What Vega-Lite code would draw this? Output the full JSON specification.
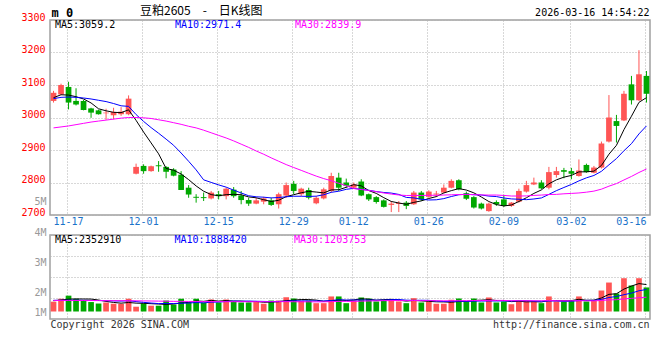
{
"$schema": "https://vega.github.io/schema/vega-lite/v6.json",
"background": "white",
"padding": {"left": 20, "top": 4, "right": 5, "bottom": 5},
"datasets": {"k": [
{"d":"2025-11-13","o":3051,"h":3082,"l":3046,"c":3076,"v":860000,"m5":3061,"m10":3058,"m30":2968,"vm5":950000,"vm10":980000,"vm30":970000},
{"d":"2025-11-14","o":3071,"h":3104,"l":3069,"c":3100,"v":1120000,"m5":3070,"m10":3062,"m30":2971,"vm5":1000000,"vm10":980000,"vm30":970000},
{"d":"2025-11-17","o":3094,"h":3110,"l":3025,"c":3046,"v":1390000,"m5":3069,"m10":3063,"m30":2974,"vm5":1080000,"vm10":990000,"vm30":970000},
{"d":"2025-11-18","o":3051,"h":3090,"l":3037,"c":3040,"v":1120000,"m5":3064,"m10":3062,"m30":2978,"vm5":1100000,"vm10":990000,"vm30":970000},
{"d":"2025-11-19","o":3051,"h":3054,"l":3022,"c":3023,"v":990000,"m5":3057,"m10":3060,"m30":2982,"vm5":1096000,"vm10":980000,"vm30":960000},
{"d":"2025-11-20","o":3028,"h":3030,"l":2999,"c":3015,"v":830000,"m5":3044.8,"m10":3057,"m30":2986,"vm5":1090000,"vm10":970000,"vm30":960000},
{"d":"2025-11-21","o":3022,"h":3024,"l":3009,"c":3010,"v":700000,"m5":3026.8,"m10":3053,"m30":2989,"vm5":1006000,"vm10":960000,"vm30":960000},
{"d":"2025-11-24","o":3013,"h":3027,"l":2993,"c":3015,"v":790000,"m5":3020.6,"m10":3049,"m30":2992,"vm5":886000,"vm10":950000,"vm30":950000},
{"d":"2025-11-25","o":3007,"h":3030,"l":2994,"c":3017,"v":670000,"m5":3016,"m10":3043,"m30":2995,"vm5":796000,"vm10":930000,"vm30":950000},
{"d":"2025-11-26","o":3010,"h":3032,"l":3005,"c":3018,"v":670000,"m5":3015,"m10":3036,"m30":2998,"vm5":732000,"vm10":914000,"vm30":950000},
{"d":"2025-11-27","o":3010,"h":3068,"l":3007,"c":3058,"v":1120000,"m5":3023.6,"m10":3034.2,"m30":3000,"vm5":790000,"vm10":940000,"vm30":950000},
{"d":"2025-11-28","o":2827,"h":2858,"l":2825,"c":2848,"v":420000,"m5":2991.2,"m10":3009,"m30":3000,"vm5":734000,"vm10":870000,"vm30":940000},
{"d":"2025-12-01","o":2851,"h":2856,"l":2827,"c":2835,"v":710000,"m5":2955.2,"m10":2987.9,"m30":2999,"vm5":718000,"vm10":802000,"vm30":930000},
{"d":"2025-12-02","o":2835,"h":2852,"l":2833,"c":2850,"v":510000,"m5":2921.8,"m10":2968.9,"m30":2997,"vm5":686000,"vm10":741000,"vm30":920000},
{"d":"2025-12-03","o":2853,"h":2866,"l":2833,"c":2850,"v":510000,"m5":2888.2,"m10":2951.6,"m30":2993,"vm5":654000,"vm10":693000,"vm30":910000},
{"d":"2025-12-04","o":2848,"h":2850,"l":2813,"c":2833,"v":960000,"m5":2843.2,"m10":2933.4,"m30":2989,"vm5":622000,"vm10":706000,"vm30":900000},
{"d":"2025-12-05","o":2840,"h":2844,"l":2819,"c":2821,"v":610000,"m5":2837.8,"m10":2914.5,"m30":2984,"vm5":660000,"vm10":697000,"vm30":890000},
{"d":"2025-12-08","o":2824,"h":2835,"l":2777,"c":2777,"v":1120000,"m5":2826.2,"m10":2890.7,"m30":2979,"vm5":742000,"vm10":730000,"vm30":890000},
{"d":"2025-12-09","o":2784,"h":2792,"l":2753,"c":2763,"v":810000,"m5":2808.8,"m10":2865.3,"m30":2973,"vm5":802000,"vm10":744000,"vm30":880000},
{"d":"2025-12-10","o":2756,"h":2764,"l":2738,"c":2753,"v":1120000,"m5":2789.4,"m10":2838.8,"m30":2968,"vm5":924000,"vm10":789000,"vm30":880000},
{"d":"2025-12-11","o":2755,"h":2769,"l":2743,"c":2752,"v":790000,"m5":2773.2,"m10":2808.2,"m30":2961,"vm5":890000,"vm10":756000,"vm30":870000},
{"d":"2025-12-12","o":2751,"h":2774,"l":2748,"c":2769,"v":1050000,"m5":2762.8,"m10":2800.3,"m30":2953,"vm5":978000,"vm10":819000,"vm30":870000},
{"d":"2025-12-15","o":2764,"h":2774,"l":2748,"c":2758,"v":790000,"m5":2759,"m10":2792.6,"m30":2945,"vm5":912000,"vm10":827000,"vm30":870000},
{"d":"2025-12-16","o":2758,"h":2784,"l":2748,"c":2781,"v":1050000,"m5":2762.6,"m10":2785.7,"m30":2937,"vm5":960000,"vm10":881000,"vm30":860000},
{"d":"2025-12-17","o":2778,"h":2786,"l":2753,"c":2758,"v":880000,"m5":2763.6,"m10":2776.5,"m30":2928,"vm5":912000,"vm10":918000,"vm30":860000},
{"d":"2025-12-18","o":2760,"h":2774,"l":2733,"c":2746,"v":790000,"m5":2762.4,"m10":2767.8,"m30":2918,"vm5":912000,"vm10":901000,"vm30":860000},
{"d":"2025-12-19","o":2746,"h":2753,"l":2728,"c":2735,"v":790000,"m5":2755.6,"m10":2759.2,"m30":2908,"vm5":860000,"vm10":919000,"vm30":860000},
{"d":"2025-12-22","o":2735,"h":2753,"l":2733,"c":2745,"v":900000,"m5":2753,"m10":2756,"m30":2897,"vm5":882000,"vm10":897000,"vm30":860000},
{"d":"2025-12-23","o":2741,"h":2756,"l":2733,"c":2751,"v":680000,"m5":2747,"m10":2754.8,"m30":2887,"vm5":808000,"vm10":884000,"vm30":860000},
{"d":"2025-12-24","o":2745,"h":2753,"l":2728,"c":2731,"v":960000,"m5":2741.6,"m10":2752.6,"m30":2875.8,"vm5":824000,"vm10":868000,"vm30":857000},
{"d":"2025-12-25","o":2733,"h":2769,"l":2720,"c":2764,"v":960000,"m5":2745.2,"m10":2753.8,"m30":2865.4,"vm5":858000,"vm10":885000,"vm30":860000},
{"d":"2025-12-26","o":2760,"h":2800,"l":2753,"c":2792,"v":1250000,"m5":2756.6,"m10":2756.1,"m30":2855.1,"vm5":950000,"vm10":905000,"vm30":865000},
{"d":"2025-12-29","o":2796,"h":2805,"l":2764,"c":2774,"v":1140000,"m5":2762.4,"m10":2757.7,"m30":2846.1,"vm5":998000,"vm10":940000,"vm30":856000},
{"d":"2025-12-30","o":2764,"h":2784,"l":2758,"c":2781,"v":940000,"m5":2768.4,"m10":2757.7,"m30":2837.4,"vm5":1050000,"vm10":929000,"vm30":850000},
{"d":"2025-12-31","o":2777,"h":2784,"l":2748,"c":2753,"v":940000,"m5":2772.8,"m10":2757.2,"m30":2828.4,"vm5":1046000,"vm10":935000,"vm30":849000},
{"d":"2026-01-05","o":2736,"h":2758,"l":2733,"c":2753,"v":730000,"m5":2770.6,"m10":2757.9,"m30":2819.7,"vm5":1000000,"vm10":929000,"vm30":845000},
{"d":"2026-01-06","o":2751,"h":2784,"l":2748,"c":2779,"v":730000,"m5":2768,"m10":2762.3,"m30":2812,"vm5":896000,"vm10":923000,"vm30":846000},
{"d":"2026-01-07","o":2774,"h":2830,"l":2769,"c":2820,"v":1320000,"m5":2777.2,"m10":2769.8,"m30":2805.5,"vm5":932000,"vm10":965000,"vm30":864000},
{"d":"2026-01-08","o":2815,"h":2830,"l":2774,"c":2784,"v":1320000,"m5":2777.8,"m10":2773.1,"m30":2797.7,"vm5":1008000,"vm10":1029000,"vm30":886000},
{"d":"2026-01-09","o":2800,"h":2812,"l":2784,"c":2790,"v":730000,"m5":2785.2,"m10":2779,"m30":2790.1,"vm5":966000,"vm10":1006000,"vm30":888000},
{"d":"2026-01-12","o":2784,"h":2800,"l":2781,"c":2794,"v":960000,"m5":2793.4,"m10":2782,"m30":2781.3,"vm5":1012000,"vm10":1006000,"vm30":882000},
{"d":"2026-01-13","o":2803,"h":2810,"l":2758,"c":2760,"v":1230000,"m5":2789.6,"m10":2778.8,"m30":2778.4,"vm5":1112000,"vm10":1004000,"vm30":909000},
{"d":"2026-01-14","o":2764,"h":2766,"l":2743,"c":2748,"v":1140000,"m5":2775.2,"m10":2776.2,"m30":2775.5,"vm5":1076000,"vm10":1004000,"vm30":924000},
{"d":"2026-01-15","o":2755,"h":2758,"l":2735,"c":2740,"v":880000,"m5":2766.4,"m10":2772.1,"m30":2771.8,"vm5":988000,"vm10":998000,"vm30":936000},
{"d":"2026-01-16","o":2745,"h":2748,"l":2723,"c":2725,"v":990000,"m5":2753.4,"m10":2769.3,"m30":2767.7,"vm5":1040000,"vm10":1003000,"vm30":952000},
{"d":"2026-01-19","o":2731,"h":2743,"l":2709,"c":2735,"v":1080000,"m5":2741.6,"m10":2767.5,"m30":2764.4,"vm5":1064000,"vm10":1038000,"vm30":956000},
{"d":"2026-01-20","o":2734,"h":2743,"l":2709,"c":2737,"v":880000,"m5":2737,"m10":2763.3,"m30":2761.6,"vm5":994000,"vm10":1053000,"vm30":965000},
{"d":"2026-01-21","o":2738,"h":2743,"l":2718,"c":2728,"v":730000,"m5":2733,"m10":2754.1,"m30":2760,"vm5":912000,"vm10":994000,"vm30":952000},
{"d":"2026-01-22","o":2733,"h":2774,"l":2731,"c":2769,"v":1170000,"m5":2738.8,"m10":2752.6,"m30":2760.2,"vm5":970000,"vm10":979000,"vm30":964000},
{"d":"2026-01-23","o":2769,"h":2774,"l":2743,"c":2748,"v":790000,"m5":2743.4,"m10":2748.4,"m30":2760,"vm5":930000,"vm10":985000,"vm30":953000},
{"d":"2026-01-26","o":2756,"h":2776,"l":2753,"c":2772,"v":880000,"m5":2750.8,"m10":2746.2,"m30":2760.7,"vm5":890000,"vm10":977000,"vm30":956000},
{"d":"2026-01-27","o":2763,"h":2774,"l":2755,"c":2766,"v":680000,"m5":2756.6,"m10":2746.8,"m30":2760.6,"vm5":850000,"vm10":922000,"vm30":944000},
{"d":"2026-01-28","o":2769,"h":2794,"l":2767,"c":2784,"v":680000,"m5":2767.8,"m10":2750.4,"m30":2761.4,"vm5":840000,"vm10":876000,"vm30":940000},
{"d":"2026-01-29","o":2784,"h":2810,"l":2782,"c":2805,"v":1030000,"m5":2775,"m10":2756.9,"m30":2762.2,"vm5":812000,"vm10":891000,"vm30":939000},
{"d":"2026-01-30","o":2807,"h":2810,"l":2776,"c":2779,"v":1140000,"m5":2781.2,"m10":2762.3,"m30":2762.9,"vm5":882000,"vm10":906000,"vm30":948000},
{"d":"2026-02-02","o":2767,"h":2772,"l":2746,"c":2750,"v":880000,"m5":2776.8,"m10":2763.8,"m30":2763.1,"vm5":882000,"vm10":886000,"vm30":951000},
{"d":"2026-02-03","o":2755,"h":2758,"l":2720,"c":2723,"v":1140000,"m5":2768.2,"m10":2762.4,"m30":2762.7,"vm5":974000,"vm10":912000,"vm30":963000},
{"d":"2026-02-04","o":2735,"h":2738,"l":2717,"c":2720,"v":790000,"m5":2755.4,"m10":2761.6,"m30":2761.8,"vm5":996000,"vm10":918000,"vm30":959000},
{"d":"2026-02-05","o":2712,"h":2738,"l":2710,"c":2735,"v":1230000,"m5":2741.4,"m10":2758.2,"m30":2761.3,"vm5":1036000,"vm10":924000,"vm30":977000},
{"d":"2026-02-06","o":2740,"h":2745,"l":2728,"c":2733,"v":790000,"m5":2732.2,"m10":2756.7,"m30":2761.4,"vm5":966000,"vm10":924000,"vm30":972000},
{"d":"2026-02-09","o":2748,"h":2762,"l":2725,"c":2728,"v":880000,"m5":2727.8,"m10":2752.3,"m30":2760.2,"vm5":966000,"vm10":924000,"vm30":969000},
{"d":"2026-02-10","o":2728,"h":2740,"l":2725,"c":2738,"v":640000,"m5":2730.8,"m10":2749.5,"m30":2758.4,"vm5":866000,"vm10":920000,"vm30":949000},
{"d":"2026-02-11","o":2741,"h":2781,"l":2738,"c":2774,"v":960000,"m5":2741.6,"m10":2748.5,"m30":2758.4,"vm5":900000,"vm10":948000,"vm30":943000},
{"d":"2026-02-12","o":2772,"h":2805,"l":2769,"c":2792,"v":960000,"m5":2753,"m10":2747.2,"m30":2758.7,"vm5":846000,"vm10":941000,"vm30":943000},
{"d":"2026-02-13","o":2794,"h":2815,"l":2792,"c":2800,"v":880000,"m5":2766.4,"m10":2749.3,"m30":2760.3,"vm5":864000,"vm10":915000,"vm30":941000},
{"d":"2026-02-24","o":2800,"h":2807,"l":2779,"c":2782,"v":730000,"m5":2777.2,"m10":2752.5,"m30":2761.3,"vm5":834000,"vm10":900000,"vm30":941000},
{"d":"2026-02-25","o":2784,"h":2848,"l":2779,"c":2832,"v":1320000,"m5":2796,"m10":2763.4,"m30":2763,"vm5":970000,"vm10":918000,"vm30":961000},
{"d":"2026-02-26","o":2823,"h":2848,"l":2815,"c":2835,"v":880000,"m5":2808.2,"m10":2774.9,"m30":2763.5,"vm5":954000,"vm10":927000,"vm30":946000},
{"d":"2026-02-27","o":2838,"h":2845,"l":2813,"c":2833,"v":880000,"m5":2816.4,"m10":2784.7,"m30":2765.2,"vm5":938000,"vm10":892000,"vm30":932000},
{"d":"2026-03-02","o":2835,"h":2845,"l":2810,"c":2827,"v":960000,"m5":2821.8,"m10":2794.1,"m30":2766.4,"vm5":954000,"vm10":909000,"vm30":939000},
{"d":"2026-03-03","o":2820,"h":2871,"l":2818,"c":2837,"v":1320000,"m5":2832.8,"m10":2805,"m30":2767.8,"vm5":1072000,"vm10":953000,"vm30":951000},
{"d":"2026-03-04","o":2854,"h":2858,"l":2830,"c":2832,"v":880000,"m5":2832.8,"m10":2814.4,"m30":2770.2,"vm5":984000,"vm10":977000,"vm30":940000},
{"d":"2026-03-05","o":2830,"h":2851,"l":2828,"c":2846,"v":940000,"m5":2835,"m10":2821.6,"m30":2773.5,"vm5":996000,"vm10":975000,"vm30":933000},
{"d":"2026-03-06","o":2846,"h":2926,"l":2843,"c":2920,"v":1840000,"m5":2852.4,"m10":2834.4,"m30":2779.5,"vm5":1188000,"vm10":1063000,"vm30":965000},
{"d":"2026-03-09","o":2926,"h":3069,"l":2923,"c":3000,"v":2540000,"m5":2887,"m10":2854.4,"m30":2788.7,"vm5":1504000,"vm10":1229000,"vm30":1017000},
{"d":"2026-03-10","o":2989,"h":3008,"l":2923,"c":2974,"v":1580000,"m5":2914.4,"m10":2873.6,"m30":2796.6,"vm5":1556000,"vm10":1314000,"vm30":1033000},
{"d":"2026-03-11","o":2991,"h":3082,"l":2989,"c":3073,"v":2920000,"m5":2962.6,"m10":2897.7,"m30":2807.8,"vm5":1964000,"vm10":1474000,"vm30":1101000},
{"d":"2026-03-12","o":3102,"h":3128,"l":3040,"c":3053,"v":2280000,"m5":3004,"m10":2919.5,"m30":2818.7,"vm5":2232000,"vm10":1614000,"vm30":1153000},
{"d":"2026-03-13","o":3053,"h":3207,"l":3051,"c":3133,"v":2920000,"m5":3046.6,"m10":2949.5,"m30":2830.8,"vm5":2448000,"vm10":1818000,"vm30":1211000},
{"d":"2026-03-16","o":3128,"h":3143,"l":3046,"c":3073,"v":2110000,"m5":3061.2,"m10":2974.1,"m30":2841.6,"vm5":2362000,"vm10":1933000,"vm30":1255000}
]},
"spacing": 20,
"bounds": "flush",
"resolve": {"scale": {"color": "independent"}, "legend": {"color": "independent"}},
"vconcat": [
{
"width": 600, "height": 195,
"data": {"name": "k"},
"title": {"text": "豆粕2605\u3000-\u3000日K线图", "anchor": "start", "frame": "group", "dx": 90, "offset": 0, "dy": 21, "font": "Noto Sans CJK SC", "fontSize": 12, "fontWeight": "normal", "color": "#000000", "baseline": "alphabetic"},
"encoding": {"x": {"field": "d", "type": "ordinal", "scale": {"type": "band", "paddingInner": 0.24, "paddingOuter": 0.09},
  "axis": {"values": ["2025-11-17","2025-12-01","2025-12-15","2025-12-29","2026-01-12","2026-01-26","2026-02-09","2026-03-02","2026-03-16"],
    "labelExpr": "slice(datum.value, 5)", "bandPosition": 0.35, "labelColor": "#1a72c9", "labelFont": "DejaVu Sans Mono", "labelFontSize": 10, "labelAngle": 0, "labelPadding": 1, "labelBaseline": "top", "labelFlush": 10, "labelOverlap": false,
    "ticks": false, "domain": false, "grid": true,
    "title": "2026-03-16 14:54:22", "titleX": 599, "titleY": -200, "titleAlign": "right", "titleBaseline": "alphabetic", "titleAngle": 0, "titleFont": "DejaVu Sans Mono", "titleFontSize": 10, "titleFontWeight": "normal", "titleColor": "#000000"}}},
"layer": [
 {"mark": {"type": "rule", "strokeWidth": 1},
  "encoding": {"y": {"field": "l", "type": "quantitative", "title": "m 0", "scale": {"domain": [2700, 3300], "nice": false, "zero": false},
     "axis": {"values": [2700, 2800, 2900, 3000, 3100, 3200, 3300], "format": "d", "labelColor": "#ff0000", "labelFont": "DejaVu Sans Mono", "labelFontSize": 10, "labelBaseline": "alphabetic", "labelPadding": 5, "labelOverlap": false, "labelBound": false, "ticks": false, "domain": false, "grid": true,
       "title": "m 0", "titleAngle": 0, "titleX": 1, "titleY": -4, "titleAlign": "left", "titleBaseline": "alphabetic", "titleFont": "DejaVu Sans Mono", "titleFontSize": 12, "titleFontWeight": "bold", "titleColor": "#000000"}},
    "y2": {"field": "h"},
    "color": {"condition": {"test": "datum.c >= datum.o", "value": "#ff5555"}, "value": "#00a800"}}},
 {"mark": {"type": "bar"},
  "encoding": {"y": {"field": "o", "type": "quantitative", "title": "m 0",
     "axis": {"values": [2700, 2800, 2900, 3000, 3100, 3200, 3300], "format": "d", "labelColor": "#ff0000", "labelFont": "DejaVu Sans Mono", "labelFontSize": 10, "labelBaseline": "alphabetic", "labelPadding": 5, "labelOverlap": false, "labelBound": false, "ticks": false, "domain": false, "grid": true,
       "title": "m 0", "titleAngle": 0, "titleX": 1, "titleY": -4, "titleAlign": "left", "titleBaseline": "alphabetic", "titleFont": "DejaVu Sans Mono", "titleFontSize": 12, "titleFontWeight": "bold", "titleColor": "#000000"}},
    "y2": {"field": "c"},
    "color": {"condition": {"test": "datum.c >= datum.o", "value": "#ff5555"}, "value": "#00a800"}}},
 {"transform": [{"fold": ["m5", "m10", "m30"], "as": ["key", "val"]}],
  "mark": {"type": "line", "strokeWidth": 1},
  "encoding": {"y": {"field": "val", "type": "quantitative", "title": "m 0",
     "axis": {"values": [2700, 2800, 2900, 3000, 3100, 3200, 3300], "format": "d", "labelColor": "#ff0000", "labelFont": "DejaVu Sans Mono", "labelFontSize": 10, "labelBaseline": "alphabetic", "labelPadding": 5, "labelOverlap": false, "labelBound": false, "ticks": false, "domain": false, "grid": true,
       "title": "m 0", "titleAngle": 0, "titleX": 1, "titleY": -4, "titleAlign": "left", "titleBaseline": "alphabetic", "titleFont": "DejaVu Sans Mono", "titleFontSize": 12, "titleFontWeight": "bold", "titleColor": "#000000"}},
    "color": {"field": "key", "type": "nominal", "scale": {"domain": ["m5", "m10", "m30"], "range": ["#000000", "#0000ff", "#ff00ff"]},
      "legend": {"orient": "none", "legendX": -5, "legendY": 0, "direction": "horizontal", "columns": 3, "gridAlign": "all", "columnPadding": 43, "padding": 0, "title": null,
        "symbolSize": 0, "symbolOpacity": 0, "symbolStrokeWidth": 0, "labelOffset": 0, "labelFont": "DejaVu Sans Mono", "labelFontSize": 10, "labelBaseline": "middle",
        "labelExpr": "datum.value == 'm5' ? 'MA5:3059.2' : datum.value == 'm10' ? 'MA10:2971.4' : 'MA30:2839.9'",
        "labelColor": {"expr": "datum.value == 'm5' ? '#000000' : datum.value == 'm10' ? '#0000ff' : '#ff00ff'"}}}}}
]
},
{
"width": 600, "height": 84,
"data": {"name": "k"},
"encoding": {"x": {"field": "d", "type": "ordinal", "scale": {"type": "band", "paddingInner": 0.24, "paddingOuter": 0.09},
  "axis": {"values": ["2025-11-17","2025-12-01","2025-12-15","2025-12-29","2026-01-12","2026-01-26","2026-02-09","2026-03-02","2026-03-16"],
    "bandPosition": 0.35, "labels": false, "ticks": false, "domain": false, "grid": true,
    "title": "Copyright 2026 SINA.COM", "titleX": 0, "titleY": 5, "titleAlign": "left", "titleBaseline": "middle", "titleAngle": 0, "titleFont": "DejaVu Sans Mono", "titleFontSize": 10, "titleFontWeight": "normal", "titleColor": "#333333"}}},
"layer": [
 {"mark": {"type": "bar"},
  "encoding": {"y": {"field": "v", "type": "quantitative", "title": "http://finance.sina.com.cn", "scale": {"domain": [-658000, 6710000], "nice": false, "zero": false},
     "axis": {"values": [6710000, 6700000, 4868000, 3026000, 1184000],
       "labelExpr": "datum.value == 6700000 ? '5M' : datum.value == 6710000 ? '4M' : datum.value == 4868000 ? '3M' : datum.value == 3026000 ? '2M' : '1M'",
       "labelOffset": {"condition": [{"test": "datum.value == 6700000", "value": -30.6}, {"test": "datum.value == 4868000", "value": 9.5}, {"test": "datum.value == 3026000", "value": 18.5}, {"test": "datum.value == 1184000", "value": 17.5}], "value": 0},
       "labelColor": "#999999", "labelFont": "DejaVu Sans Mono", "labelFontSize": 10, "labelBaseline": "alphabetic", "labelPadding": 4, "labelOverlap": false, "labelBound": false,
       "ticks": false, "domain": false, "grid": true,
       "title": "http://finance.sina.com.cn", "titleAngle": 0, "titleX": 599, "titleY": 89, "titleAlign": "right", "titleBaseline": "middle", "titleFont": "DejaVu Sans Mono", "titleFontSize": 10, "titleFontWeight": "normal", "titleColor": "#333333"}},
    "y2": {"datum": 0},
    "color": {"condition": {"test": "datum.c >= datum.o", "value": "#ff5555"}, "value": "#00a800"}}},
 {"transform": [{"fold": ["vm5", "vm10", "vm30"], "as": ["key", "val"]}],
  "mark": {"type": "line", "strokeWidth": 1},
  "encoding": {"y": {"field": "val", "type": "quantitative", "title": "http://finance.sina.com.cn",
     "axis": {"values": [6710000, 6700000, 4868000, 3026000, 1184000],
       "labelExpr": "datum.value == 6700000 ? '5M' : datum.value == 6710000 ? '4M' : datum.value == 4868000 ? '3M' : datum.value == 3026000 ? '2M' : '1M'",
       "labelOffset": {"condition": [{"test": "datum.value == 6700000", "value": -30.6}, {"test": "datum.value == 4868000", "value": 9.5}, {"test": "datum.value == 3026000", "value": 18.5}, {"test": "datum.value == 1184000", "value": 17.5}], "value": 0},
       "labelColor": "#999999", "labelFont": "DejaVu Sans Mono", "labelFontSize": 10, "labelBaseline": "alphabetic", "labelPadding": 4, "labelOverlap": false, "labelBound": false,
       "ticks": false, "domain": false, "grid": true,
       "title": "http://finance.sina.com.cn", "titleAngle": 0, "titleX": 599, "titleY": 89, "titleAlign": "right", "titleBaseline": "middle", "titleFont": "DejaVu Sans Mono", "titleFontSize": 10, "titleFontWeight": "normal", "titleColor": "#333333"}},
    "color": {"field": "key", "type": "nominal", "scale": {"domain": ["vm5", "vm10", "vm30"], "range": ["#000000", "#0000ff", "#ff00ff"]},
      "legend": {"orient": "none", "legendX": -5, "legendY": 0, "direction": "horizontal", "columns": 3, "gridAlign": "all", "columnPadding": 36.5, "padding": 0, "title": null,
        "symbolSize": 0, "symbolOpacity": 0, "symbolStrokeWidth": 0, "labelOffset": 0, "labelFont": "DejaVu Sans Mono", "labelFontSize": 10, "labelBaseline": "middle",
        "labelExpr": "datum.value == 'vm5' ? 'MA5:2352910' : datum.value == 'vm10' ? 'MA10:1888420' : 'MA30:1203753'",
        "labelColor": {"expr": "datum.value == 'vm5' ? '#000000' : datum.value == 'vm10' ? '#0000ff' : '#ff00ff'"}}}}}
]
}
],
"config": {
 "view": {"stroke": "#a0a0a0", "strokeWidth": 1.5},
 "axis": {"gridColor": "#b0b0b0", "gridDash": [1, 2], "gridWidth": 1, "ticks": false, "domain": false},
 "axisY": {"labelFont": "DejaVu Sans Mono", "labelFontSize": 10, "labelBaseline": "alphabetic", "labelOverlap": false, "labelBound": false, "grid": true},
 "axisX": {"labelFont": "DejaVu Sans Mono", "labelFontSize": 10, "grid": true},
 "font": "DejaVu Sans Mono"
}
}
